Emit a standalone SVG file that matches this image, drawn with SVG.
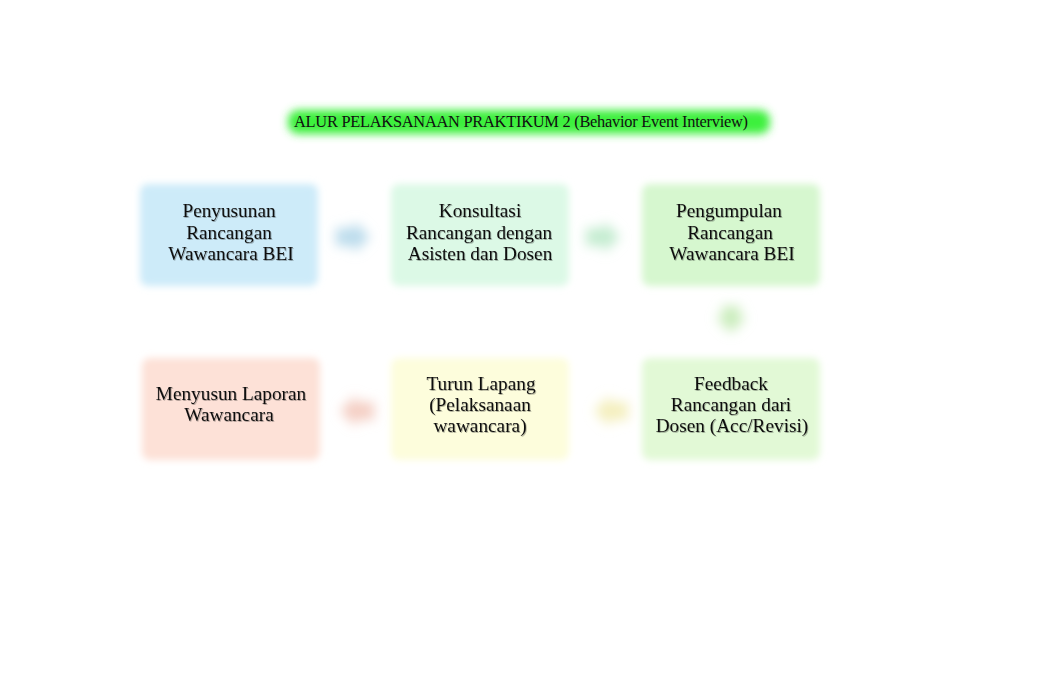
<svg xmlns="http://www.w3.org/2000/svg" width="1062" height="696" viewBox="0 0 1062 696">
<defs>
<filter id="soft" x="-20%" y="-20%" width="140%" height="140%"><feGaussianBlur stdDeviation="3.5"/></filter>
<filter id="blob" x="-80%" y="-80%" width="260%" height="260%"><feGaussianBlur stdDeviation="6"/></filter>
<filter id="glow" x="-10%" y="-60%" width="120%" height="220%"><feGaussianBlur stdDeviation="4"/></filter>
<filter id="tsh" x="-5%" y="-20%" width="110%" height="140%"><feDropShadow dx="0.8" dy="1" stdDeviation="0.5" flood-color="#000" flood-opacity="0.3"/></filter>
</defs>
<style>
.t{font-family:"Liberation Serif","Times New Roman",serif;font-size:19.3px;fill:#111;text-anchor:middle}
.title{font-family:"Liberation Serif","Times New Roman",serif;font-size:16.4px;fill:#111}
</style>
<rect width="1062" height="696" fill="#fff"/>
<g id="title">
<rect x="288" y="110" width="482" height="24" rx="10" fill="#3ef03e" filter="url(#glow)"/>
<text class="title" x="294" y="127" textLength="454">ALUR PELAKSANAAN PRAKTIKUM 2 (Behavior Event Interview)</text>
</g>
<g id="connectors">
<path d="M336 228 h18 v-7 l16 16 l-16 16 v-7 h-18 z" fill="#bcdcec" filter="url(#blob)"/>
<path d="M586 228 h18 v-7 l16 16 l-16 16 v-7 h-18 z" fill="#c4ecd0" filter="url(#blob)"/>
<path d="M722 306 v11 h-7 l16 16 l16 -16 h-7 v-11 z" fill="#cbedbd" filter="url(#blob)"/>
<path d="M628 402 h-18 v-7 l-16 16 l16 16 v-7 h18 z" fill="#f4efbe" filter="url(#blob)"/>
<path d="M374 402 h-18 v-7 l-16 16 l16 16 v-7 h18 z" fill="#f4cfc4" filter="url(#blob)"/>
</g>
<g id="n1">
<rect x="140" y="184" width="178" height="102" rx="8" fill="#cdebf9" filter="url(#soft)"/>
<g filter="url(#tsh)"><text class="t" x="229" y="217">Penyusunan</text><text class="t" x="229" y="239">Rancangan</text><text class="t" x="231" y="260">Wawancara BEI</text></g>
</g>
<g id="n2">
<rect x="391" y="184" width="178" height="102" rx="8" fill="#dcf9e6" filter="url(#soft)"/>
<g filter="url(#tsh)"><text class="t" x="480" y="217">Konsultasi</text><text class="t" x="479" y="239">Rancangan dengan</text><text class="t" x="480" y="260">Asisten dan Dosen</text></g>
</g>
<g id="n3">
<rect x="642" y="184" width="178" height="102" rx="8" fill="#d6f7cf" filter="url(#soft)"/>
<g filter="url(#tsh)"><text class="t" x="729" y="217">Pengumpulan</text><text class="t" x="730" y="239">Rancangan</text><text class="t" x="732" y="260">Wawancara BEI</text></g>
</g>
<g id="n4">
<rect x="142" y="358" width="178" height="102" rx="8" fill="#fde1d7" filter="url(#soft)"/>
<g filter="url(#tsh)"><text class="t" x="231" y="400">Menyusun Laporan</text><text class="t" x="229" y="421">Wawancara</text></g>
</g>
<g id="n5">
<rect x="391" y="358" width="178" height="102" rx="8" fill="#fdfddc" filter="url(#soft)"/>
<g filter="url(#tsh)"><text class="t" x="481" y="390">Turun Lapang</text><text class="t" x="480" y="411">(Pelaksanaan</text><text class="t" x="480" y="432">wawancara)</text></g>
</g>
<g id="n6">
<rect x="642" y="358" width="178" height="102" rx="8" fill="#e2f9d6" filter="url(#soft)"/>
<g filter="url(#tsh)"><text class="t" x="731" y="390">Feedback</text><text class="t" x="731" y="411">Rancangan dari</text><text class="t" x="732" y="432">Dosen (Acc/Revisi)</text></g>
</g>
</svg>
